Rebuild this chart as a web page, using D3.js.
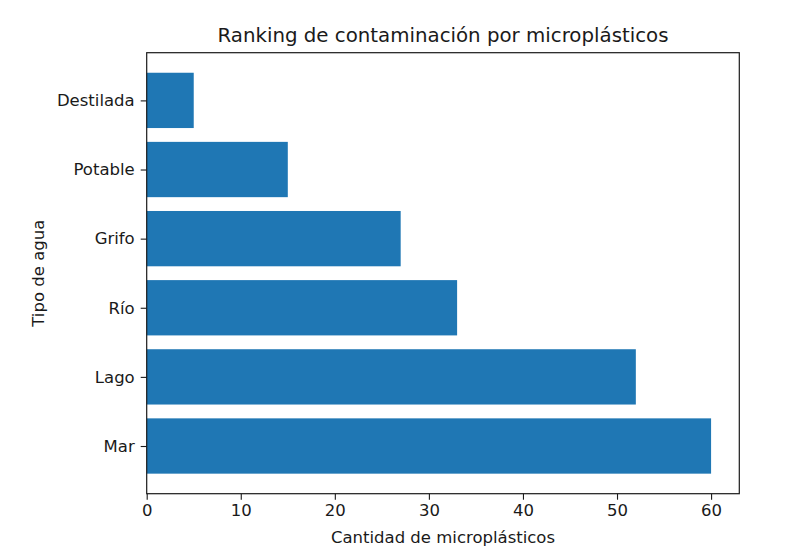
<!DOCTYPE html>
<html>
<head>
<meta charset="utf-8">
<script src="https://cdn.jsdelivr.net/npm/d3@7"></script>
<style>
  body { margin: 0; background: #fff; }
  text { font-family: "DejaVu Sans", sans-serif; fill: #1a1a1a; }
</style>
</head>
<body>
<svg id="chart" width="804" height="557"></svg>
<script>
// data, top to bottom as drawn
const categories = ["Destilada", "Potable", "Grifo", "Río", "Lago", "Mar"];
const values = [5, 15, 27, 33, 52, 60];
const xTicks = [0, 10, 20, 30, 40, 50, 60];

const title = "Ranking de contaminación por microplásticos";
const xLabel = "Cantidad de microplásticos";
const yLabel = "Tipo de agua";

const W = 804, H = 557;
const margin = { left: 146.7, right: 804 - 739.3, top: 52.7, bottom: 557 - 493.7 };
const iw = W - margin.left - margin.right;
const ih = H - margin.top - margin.bottom;

const svg = d3.select("#chart");
const g = svg.append("g").attr("transform", `translate(${margin.left},${margin.top})`);

// matplotlib-like margins: 5% on x max, bars 0.8 wide, 5% padding on y
const x = d3.scaleLinear().domain([0, d3.max(values) * 1.05]).range([0, iw]);
const n = categories.length;
const lo = -0.4 - 0.05 * (n - 1 + 0.8);
const hi = n - 1 + 0.4 + 0.05 * (n - 1 + 0.8);
const y = d3.scaleLinear().domain([lo, hi]).range([0, ih]);

g.selectAll("rect.bar")
  .data(values)
  .enter()
  .append("rect")
  .attr("class", "bar")
  .attr("x", x(0))
  .attr("y", (d, i) => y(i - 0.4))
  .attr("width", (d) => x(d) - x(0))
  .attr("height", (d, i) => y(i + 0.4) - y(i - 0.4))
  .attr("fill", "#1f77b4");

// x axis
const xAxis = g.append("g")
  .attr("transform", `translate(0,${ih})`)
  .call(d3.axisBottom(x).tickValues(xTicks).tickSize(6).tickPadding(5).tickFormat(d3.format("d")));
xAxis.select(".domain").remove();
xAxis.selectAll("line").attr("stroke", "#1a1a1a").attr("stroke-width", 1.1);
xAxis.selectAll("text").style("font-size", "16.5px").style("font-family", "DejaVu Sans").attr("fill", "#1a1a1a");

// y axis
const yAxis = g.append("g")
  .call(d3.axisLeft(y).tickValues(d3.range(n)).tickSize(6).tickPadding(6).tickFormat((i) => categories[i]));
yAxis.select(".domain").remove();
yAxis.selectAll("line").attr("stroke", "#1a1a1a").attr("stroke-width", 1.1);
yAxis.selectAll("text").style("font-size", "16.5px").style("font-family", "DejaVu Sans").attr("fill", "#1a1a1a");

// frame
g.append("rect")
  .attr("width", iw)
  .attr("height", ih)
  .attr("fill", "none")
  .attr("stroke", "#1a1a1a")
  .attr("stroke-width", 1.2);

// labels
svg.append("text")
  .attr("x", margin.left + iw / 2)
  .attr("y", 41.5)
  .attr("text-anchor", "middle")
  .style("font-size", "19.8px")
  .text(title);

svg.append("text")
  .attr("x", margin.left + iw / 2)
  .attr("y", 543.3)
  .attr("text-anchor", "middle")
  .style("font-size", "16.5px")
  .text(xLabel);

svg.append("text")
  .attr("transform", `translate(44,${margin.top + ih / 2}) rotate(-90)`)
  .attr("text-anchor", "middle")
  .style("font-size", "16.5px")
  .text(yLabel);
</script>
</body>
</html>
